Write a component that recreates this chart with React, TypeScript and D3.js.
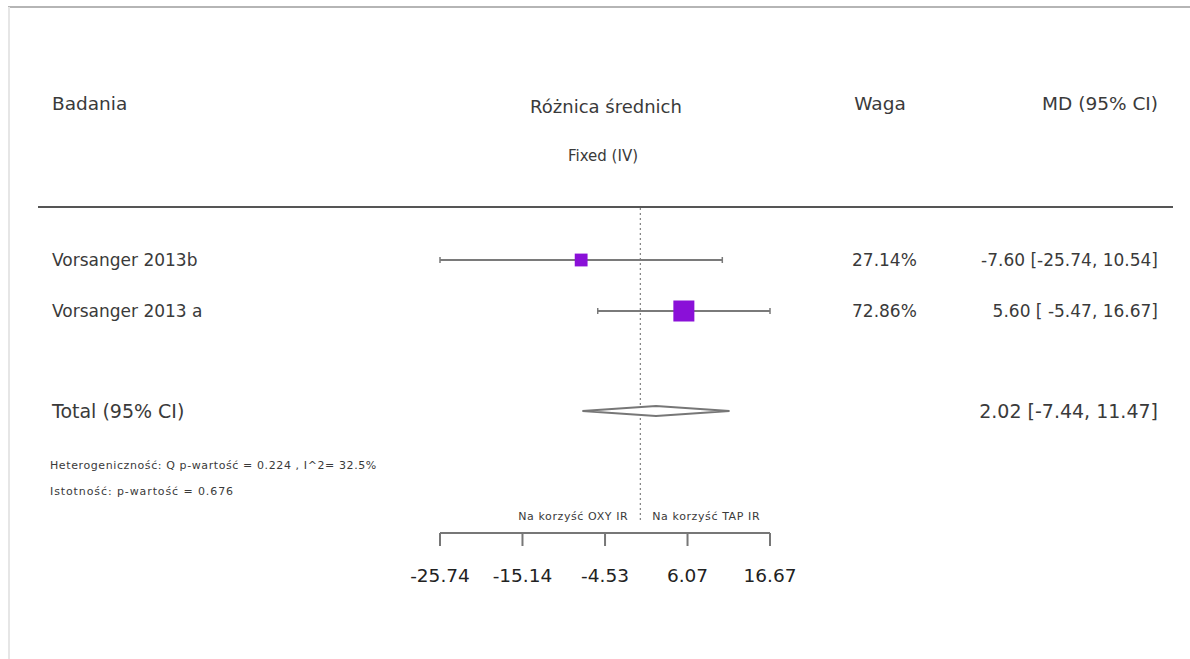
import React from "react";
import * as d3 from "d3";

const studies = ["Vorsanger 2013b", "Vorsanger 2013 a"];
const md = [-7.6, 5.6];
const lower = [-25.74, -5.47];
const upper = [10.54, 16.67];
const weights = [27.14, 72.86];
const ciLabels = ["-7.60 [-25.74, 10.54]", "5.60 [ -5.47, 16.67]"];
const totalMd = 2.02;
const totalLower = -7.44;
const totalUpper = 11.47;
const totalLabel = "2.02 [-7.44, 11.47]";
const tickValues = [-25.74, -15.14, -4.53, 6.07, 16.67];
const heterogeneity = "Heterogeniczność: Q p-wartość = 0.224 , I^2= 32.5%";
const significance = "Istotność: p-wartość = 0.676";

const FONT = "'DejaVu Sans', Verdana, sans-serif";
const TXT = "#3a3a3a";

export default function App() {
  const x = d3.scaleLinear().domain([-25.74, 16.67]).range([440, 770]);
  const rowY = [260, 311];
  const sizeScale = d3.scaleSqrt().domain([0, 72.86]).range([0, 21]);
  const totalY = 411;
  const diamond = d3.line<[number, number]>()([
    [x(totalLower), totalY],
    [x(totalMd), totalY - 5],
    [x(totalUpper), totalY],
    [x(totalMd), totalY + 5],
  ]) + "Z";
  const axisY = 533;
  return (
    <svg width={1190} height={659} style={{ position: "absolute", left: 0, top: 0, background: "#fff" }} fontFamily={FONT}>
      <line x1={8} x2={1190} y1={7} y2={7} stroke="#b5b5b5" strokeWidth={2} />
      <line x1={9} x2={9} y1={7} y2={659} stroke="#e6e6e6" strokeWidth={2} />

      <text x={52} y={110} fontSize={18.5} fill={TXT}>Badania</text>
      <text x={606} y={113} fontSize={18} fill={TXT} textAnchor="middle">Różnica średnich</text>
      <text x={603} y={161} fontSize={15} fill={TXT} textAnchor="middle">Fixed (IV)</text>
      <text x={880} y={110} fontSize={18.5} fill={TXT} textAnchor="middle">Waga</text>
      <text x={1158} y={110} fontSize={18.5} fill={TXT} textAnchor="end">MD (95% CI)</text>

      <line x1={38} x2={1173} y1={207} y2={207} stroke="#555" strokeWidth={2} />
      <line x1={x(0)} x2={x(0)} y1={208} y2={520} stroke="#666" strokeWidth={1} strokeDasharray="2,3" />

      {studies.map((s, i) => {
        const sz = sizeScale(weights[i]);
        return (
          <g key={s}>
            <text x={52} y={rowY[i] + 6} fontSize={17} fill={TXT}>{s}</text>
            <line x1={x(lower[i])} x2={x(upper[i])} y1={rowY[i]} y2={rowY[i]} stroke="#7a7a7a" strokeWidth={2} />
            <line x1={x(lower[i])} x2={x(lower[i])} y1={rowY[i] - 3} y2={rowY[i] + 3} stroke="#7a7a7a" strokeWidth={1.5} />
            <line x1={x(upper[i])} x2={x(upper[i])} y1={rowY[i] - 3} y2={rowY[i] + 3} stroke="#7a7a7a" strokeWidth={1.5} />
            <rect x={x(md[i]) - sz / 2} y={rowY[i] - sz / 2} width={sz} height={sz} fill="#8a10d8" />
            <text x={852} y={rowY[i] + 6} fontSize={17} fill={TXT}>{weights[i].toFixed(2)}%</text>
            <text x={1158} y={rowY[i] + 6} fontSize={17} fill={TXT} textAnchor="end">{ciLabels[i]}</text>
          </g>
        );
      })}

      <text x={52} y={totalY + 7} fontSize={19} fill={TXT}>Total (95% CI)</text>
      <path d={diamond} fill="#fff" stroke="#777" strokeWidth={2} />
      <text x={1158} y={totalY + 7} fontSize={19} fill={TXT} textAnchor="end">{totalLabel}</text>

      <text x={50} y={469} fontSize={11} letterSpacing={0.6} fill={TXT}>{heterogeneity}</text>
      <text x={50} y={495} fontSize={11} letterSpacing={0.9} fill={TXT}>{significance}</text>

      <text x={x(0) - 12} y={520} fontSize={11} letterSpacing={0.6} fill={TXT} textAnchor="end">Na korzyść OXY IR</text>
      <text x={x(0) + 12} y={520} fontSize={11} letterSpacing={0.6} fill={TXT}>Na korzyść TAP IR</text>

      <line x1={x(tickValues[0])} x2={x(tickValues[tickValues.length - 1])} y1={axisY} y2={axisY} stroke="#777" strokeWidth={2} />
      {tickValues.map((t) => (
        <g key={t}>
          <line x1={x(t)} x2={x(t)} y1={axisY} y2={axisY + 13} stroke="#777" strokeWidth={2} />
          <text x={x(t)} y={582} fontSize={18.5} fill="#222" textAnchor="middle">{t.toFixed(2)}</text>
        </g>
      ))}
    </svg>
  );
}
